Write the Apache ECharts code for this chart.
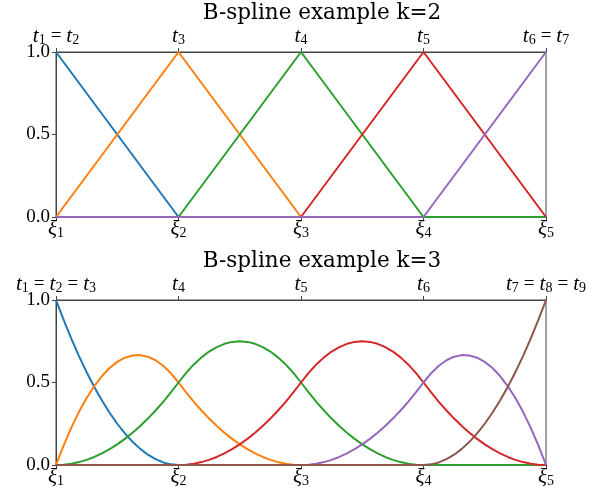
<!DOCTYPE html>
<html><head><meta charset="utf-8">
<script src="https://cdn.jsdelivr.net/npm/echarts@6/dist/echarts.min.js"></script>
<style>html,body{margin:0;padding:0;background:#fff}#c{width:594px;height:495px}</style>
</head><body><div id="c"></div>
<script>
// ---- data ----
const titles = ['B-spline example k=2', 'B-spline example k=3'];
const xiTicks = [1, 2, 3, 4, 5];                 // bottom labels ξ_i at x = 0..4
const tTicksK2 = [[1, 2], [3], [4], [5], [6, 7]];   // top labels, upper plot
const tTicksK3 = [[1, 2, 3], [4], [5], [6], [7, 8, 9]]; // top labels, lower plot

// k=2 (linear) basis values at the knots x = 0..4
const xK2 = [0, 1, 2, 3, 4];
const b2_1 = [1, 0, 0, 0, 0];
const b2_2 = [0, 1, 0, 0, 0];
const b2_3 = [0, 0, 1, 0, 0];
const b2_4 = [0, 0, 0, 1, 0];
const b2_5 = [0, 0, 0, 0, 1];

// k=3 (quadratic) basis values read at x = 0, 0.0625, ..., 4
const xK3 = [0,0.0625,0.125,0.1875,0.25,0.3125,0.375,0.4375,0.5,0.5625,0.625,0.6875,0.75,0.8125,0.875,0.9375,
  1,1.0625,1.125,1.1875,1.25,1.3125,1.375,1.4375,1.5,1.5625,1.625,1.6875,1.75,1.8125,1.875,1.9375,
  2,2.0625,2.125,2.1875,2.25,2.3125,2.375,2.4375,2.5,2.5625,2.625,2.6875,2.75,2.8125,2.875,2.9375,
  3,3.0625,3.125,3.1875,3.25,3.3125,3.375,3.4375,3.5,3.5625,3.625,3.6875,3.75,3.8125,3.875,3.9375,4];
const b3_1 = [1,.8789,.7656,.6602,.5625,.4727,.3906,.3164,.25,.1914,.1406,.0977,.0625,.0352,.0156,.0039,
  0,0,0,0,0,0,0,0,0,0,0,0,0,0,0,0,
  0,0,0,0,0,0,0,0,0,0,0,0,0,0,0,0,
  0,0,0,0,0,0,0,0,0,0,0,0,0,0,0,0,0];
const b3_2 = [0,.1191,.2266,.3223,.4063,.4785,.5391,.5879,.625,.6504,.6641,.666,.6563,.6348,.6016,.5566,
  .5,.4395,.3828,.3301,.2813,.2363,.1953,.1582,.125,.0957,.0703,.0488,.0313,.0176,.0078,.002,
  0,0,0,0,0,0,0,0,0,0,0,0,0,0,0,0,
  0,0,0,0,0,0,0,0,0,0,0,0,0,0,0,0,0];
const b3_3 = [0,.002,.0078,.0176,.0313,.0488,.0703,.0957,.125,.1582,.1953,.2363,.2813,.3301,.3828,.4395,
  .5,.5586,.6094,.6523,.6875,.7148,.7344,.7461,.75,.7461,.7344,.7148,.6875,.6523,.6094,.5586,
  .5,.4395,.3828,.3301,.2813,.2363,.1953,.1582,.125,.0957,.0703,.0488,.0313,.0176,.0078,.002,
  0,0,0,0,0,0,0,0,0,0,0,0,0,0,0,0,0];
const b3_4 = [0,0,0,0,0,0,0,0,0,0,0,0,0,0,0,0,
  0,.002,.0078,.0176,.0313,.0488,.0703,.0957,.125,.1582,.1953,.2363,.2813,.3301,.3828,.4395,
  .5,.5586,.6094,.6523,.6875,.7148,.7344,.7461,.75,.7461,.7344,.7148,.6875,.6523,.6094,.5586,
  .5,.4395,.3828,.3301,.2813,.2363,.1953,.1582,.125,.0957,.0703,.0488,.0313,.0176,.0078,.002,0];
const b3_5 = [0,0,0,0,0,0,0,0,0,0,0,0,0,0,0,0,
  0,0,0,0,0,0,0,0,0,0,0,0,0,0,0,0,
  0,.002,.0078,.0176,.0313,.0488,.0703,.0957,.125,.1582,.1953,.2363,.2813,.3301,.3828,.4395,
  .5,.5566,.6016,.6348,.6563,.666,.6641,.6504,.625,.5879,.5391,.4785,.4063,.3223,.2266,.1191,0];
const b3_6 = [0,0,0,0,0,0,0,0,0,0,0,0,0,0,0,0,
  0,0,0,0,0,0,0,0,0,0,0,0,0,0,0,0,
  0,0,0,0,0,0,0,0,0,0,0,0,0,0,0,0,
  0,.0039,.0156,.0352,.0625,.0977,.1406,.1914,.25,.3164,.3906,.4727,.5625,.6602,.7656,.8789,1];

const colors = ['#1f77b4', '#ff7f0e', '#2ca02c', '#d62728', '#9467bd', '#8c564b'];

// ---- chart ----
const FONT = 'DejaVu Serif';
const NUMFONT = 'Liberation Serif';
const AX = '#444';
const rich = {
  i: {fontFamily: NUMFONT, fontStyle: 'italic', fontSize: 21, color: '#000'},
  s: {fontFamily: NUMFONT, fontSize: 14, color: '#000', padding: [8, 0, 0, 0]},
  e: {fontFamily: NUMFONT, fontSize: 19, color: '#000', padding: [0, 5, 0, 5]}
};
function tLabel(list) {
  return list.map(n => '{i|t}{s|' + n + '}').join('{e|=}');
}
function pairs(xs, ys) { return xs.map((x, i) => [x, ys[i]]); }

const grids = [
  {left: 56, top: 52, width: 490, height: 165},
  {left: 56, top: 300, width: 490, height: 165}
];
grids.forEach(g => { g.show = true; g.borderColor = AX; g.borderWidth = 1; g.backgroundColor = 'transparent'; });

function xBottom(gi) {
  return {
    type: 'value', gridIndex: gi, min: 0, max: 4, interval: 1, position: 'bottom',
    axisLine: {show: true, onZero: false, lineStyle: {color: AX, width: 1}},
    axisTick: {show: true, length: 4, lineStyle: {color: AX}},
    splitLine: {show: false},
    axisLabel: {margin: 1, rich: rich, formatter: v => '{i|ξ}{s|' + xiTicks[Math.round(v)] + '}'}
  };
}
function xTop(gi, ticks) {
  return {
    type: 'value', gridIndex: gi, min: 0, max: 4, interval: 1, position: 'top',
    axisLine: {show: true, onZero: false, lineStyle: {color: AX, width: 1}},
    axisTick: {show: true, length: 4, lineStyle: {color: AX}},
    splitLine: {show: false},
    axisLabel: {margin: 5, rich: rich, formatter: v => tLabel(ticks[Math.round(v)])}
  };
}
function yAx(gi) {
  return {
    type: 'value', gridIndex: gi, min: 0, max: 1, interval: 0.5,
    axisLine: {show: true, lineStyle: {color: AX, width: 1}},
    axisTick: {show: true, length: 4, lineStyle: {color: AX}},
    splitLine: {show: false},
    axisLabel: {margin: 6, fontFamily: NUMFONT, fontSize: 19, color: '#000', formatter: v => v.toFixed(1)}
  };
}

const k2 = [b2_1, b2_2, b2_3, b2_4, b2_5];
const k3 = [b3_1, b3_2, b3_3, b3_4, b3_5, b3_6];
const series = [];
k2.forEach((ys, i) => series.push({
  type: 'line', xAxisIndex: 0, yAxisIndex: 0, data: pairs(xK2, ys), symbol: 'none',
  lineStyle: {color: colors[i], width: 2}, itemStyle: {color: colors[i]}, animation: false, silent: true
}));
k3.forEach((ys, i) => series.push({
  type: 'line', xAxisIndex: 2, yAxisIndex: 1, data: pairs(xK3, ys), symbol: 'none',
  lineStyle: {color: colors[i], width: 2, join: 'round'}, itemStyle: {color: colors[i]}, animation: false, silent: true
}));

const chart = echarts.init(document.getElementById('c'), null, {renderer: 'canvas'});
chart.setOption({
  animation: false,
  backgroundColor: '#fff',
  title: [
    {text: titles[0], left: 322, top: 2, textAlign: 'center', padding: 0,
     textStyle: {fontFamily: FONT, fontWeight: 'normal', fontSize: 21.5, color: '#000'}},
    {text: titles[1], left: 322, top: 250, textAlign: 'center', padding: 0,
     textStyle: {fontFamily: FONT, fontWeight: 'normal', fontSize: 21.5, color: '#000'}}
  ],
  grid: grids,
  xAxis: [xBottom(0), xTop(0, tTicksK2), xBottom(1), xTop(1, tTicksK3)],
  yAxis: [yAx(0), yAx(1)],
  series: series
});
</script>
</body></html>
